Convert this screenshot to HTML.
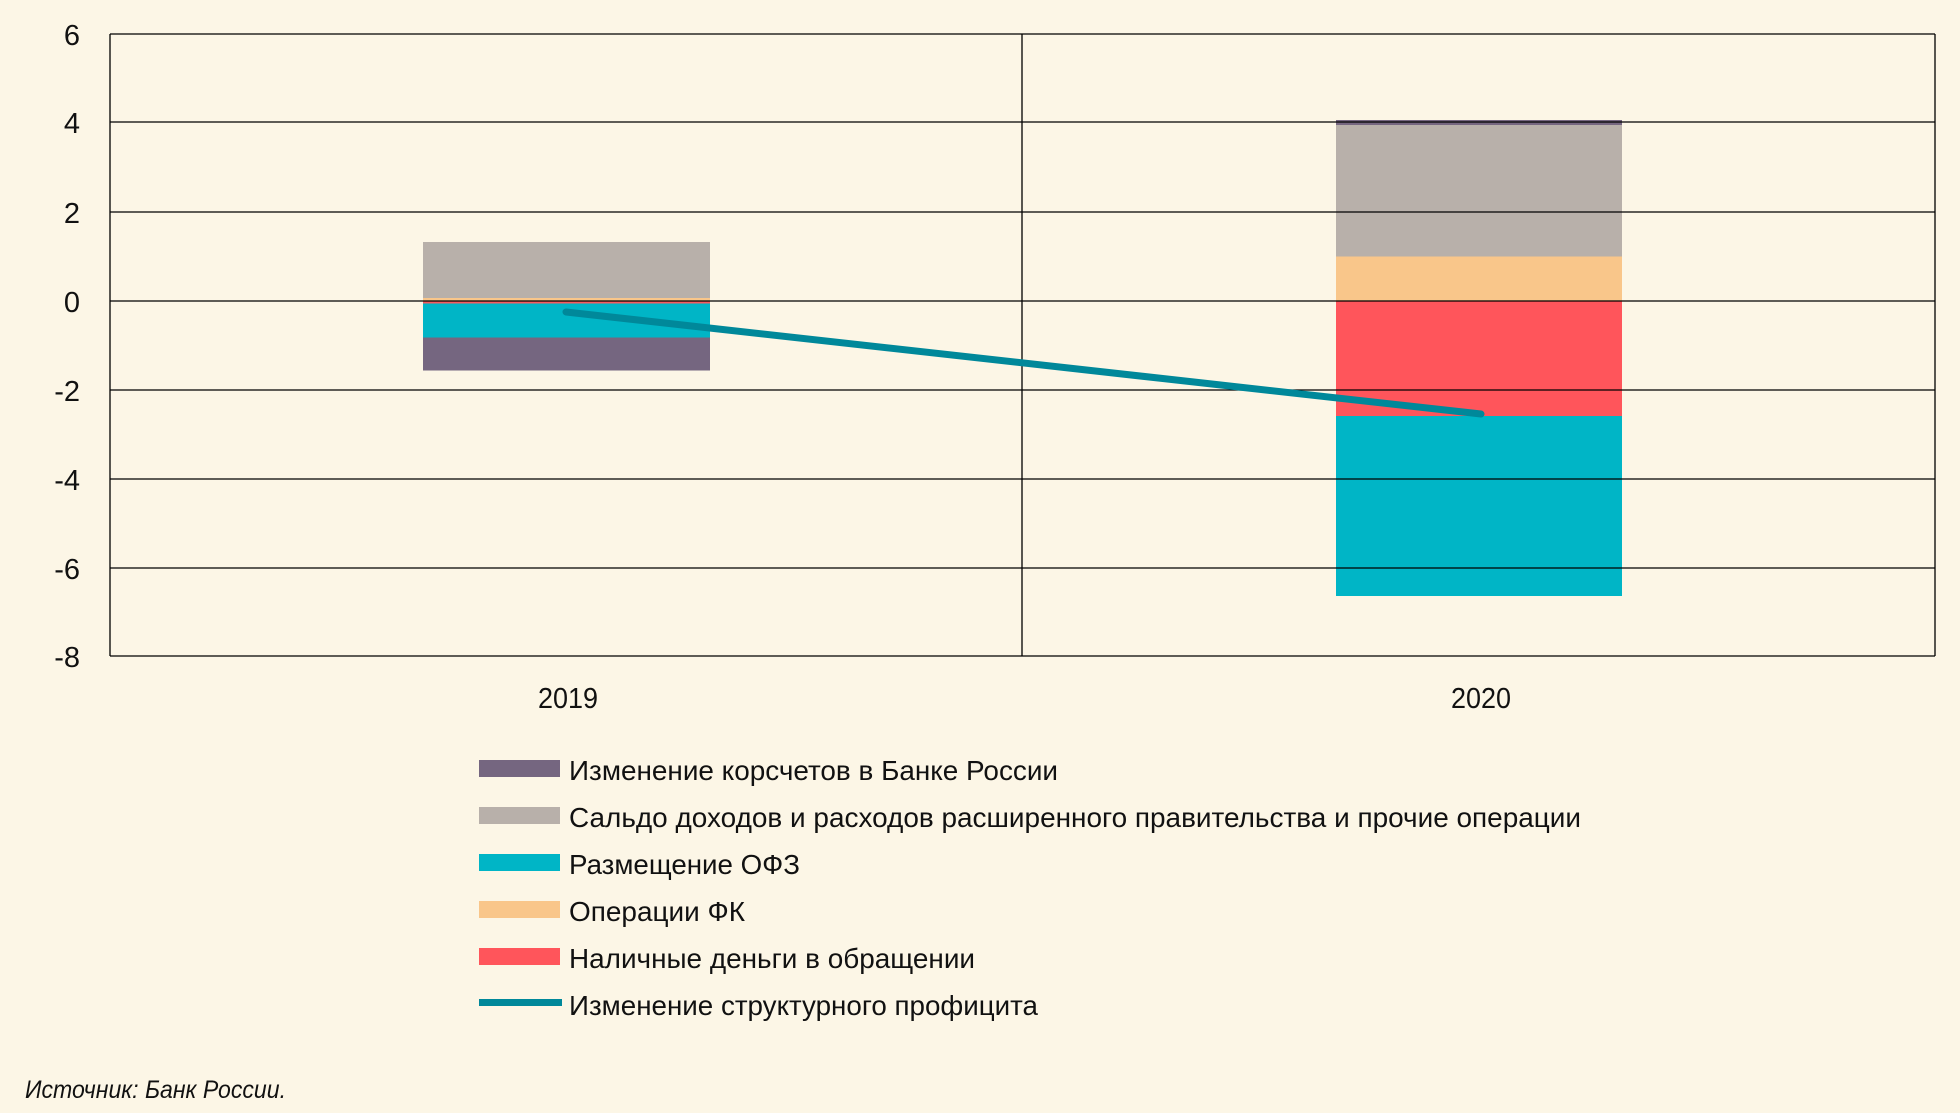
<!DOCTYPE html>
<html><head><meta charset="utf-8"><style>
html,body{margin:0;padding:0;background:#fcf6e6;}
svg{display:block;}
text{font-family:"Liberation Sans",sans-serif;fill:#111;}
</style></head><body>
<svg width="1960" height="1113" viewBox="0 0 1960 1113">
<rect width="1960" height="1113" fill="#fcf6e6"/>
<!-- bars 2019 -->
<rect x="423" y="242" width="287" height="56" fill="#b8b0aa"/>
<rect x="423" y="298" width="287" height="2.5" fill="#f9c68a"/>
<rect x="423" y="300.5" width="287" height="3" fill="#f65a5e"/>
<rect x="423" y="303.5" width="287" height="34" fill="#00b5c6"/>
<rect x="423" y="337.5" width="287" height="33" fill="#756680"/>
<!-- bars 2020 -->
<rect x="1336" y="120" width="286" height="5" fill="#756680"/>
<rect x="1336" y="125" width="286" height="131.5" fill="#b8b0aa"/>
<rect x="1336" y="256.5" width="286" height="44.5" fill="#f9c68a"/>
<rect x="1336" y="301" width="286" height="115" fill="#ff555b"/>
<rect x="1336" y="416" width="286" height="180" fill="#00b5c6"/>
<!-- grid -->
<g stroke="#000" stroke-width="1.3" fill="none">
<line x1="110" y1="34" x2="1935" y2="34"/>
<line x1="110" y1="122" x2="1935" y2="122"/>
<line x1="110" y1="212" x2="1935" y2="212"/>
<line x1="110" y1="301" x2="1935" y2="301"/>
<line x1="110" y1="390" x2="1935" y2="390"/>
<line x1="110" y1="479" x2="1935" y2="479"/>
<line x1="110" y1="568" x2="1935" y2="568"/>
<line x1="110" y1="656" x2="1935" y2="656"/>
<line x1="110" y1="34" x2="110" y2="656"/>
<line x1="1022" y1="34" x2="1022" y2="656"/>
<line x1="1935" y1="34" x2="1935" y2="656"/>
</g>
<line x1="566" y1="312" x2="1481" y2="414" stroke="#00889a" stroke-width="7" stroke-linecap="round"/>
<g font-size="29" text-anchor="end">
<text x="80" y="45">6</text>
<text x="80" y="133">4</text>
<text x="80" y="223">2</text>
<text x="80" y="312">0</text>
<text x="80" y="401">-2</text>
<text x="80" y="490">-4</text>
<text x="80" y="579">-6</text>
<text x="80" y="667">-8</text>
</g>
<text x="538" y="708" font-size="29" textLength="60" lengthAdjust="spacingAndGlyphs">2019</text>
<text x="1451" y="708" font-size="29" textLength="60" lengthAdjust="spacingAndGlyphs">2020</text>
<!-- legend -->
<rect x="479" y="760" width="81" height="17" fill="#756680"/>
<rect x="479" y="807" width="81" height="17" fill="#b8b0aa"/>
<rect x="479" y="854" width="81" height="17" fill="#00b5c6"/>
<rect x="479" y="901" width="81" height="17" fill="#f9c68a"/>
<rect x="479" y="948" width="81" height="17" fill="#ff555b"/>
<rect x="479" y="999" width="83" height="7" fill="#00889a"/>
<g font-size="28">
<text x="569" y="780" textLength="489" lengthAdjust="spacingAndGlyphs">Изменение корсчетов в Банке России</text>
<text x="569" y="827" textLength="1012" lengthAdjust="spacingAndGlyphs">Сальдо доходов и расходов расширенного правительства и прочие операции</text>
<text x="569" y="874" textLength="231" lengthAdjust="spacingAndGlyphs">Размещение ОФЗ</text>
<text x="569" y="921" textLength="176" lengthAdjust="spacingAndGlyphs">Операции ФК</text>
<text x="569" y="968" textLength="406" lengthAdjust="spacingAndGlyphs">Наличные деньги в обращении</text>
<text x="569" y="1015" textLength="469" lengthAdjust="spacingAndGlyphs">Изменение структурного профицита</text>
</g>
<text x="25" y="1098" font-size="25" font-style="italic" textLength="261" lengthAdjust="spacingAndGlyphs">Источник: Банк России.</text>
</svg>
</body></html>
